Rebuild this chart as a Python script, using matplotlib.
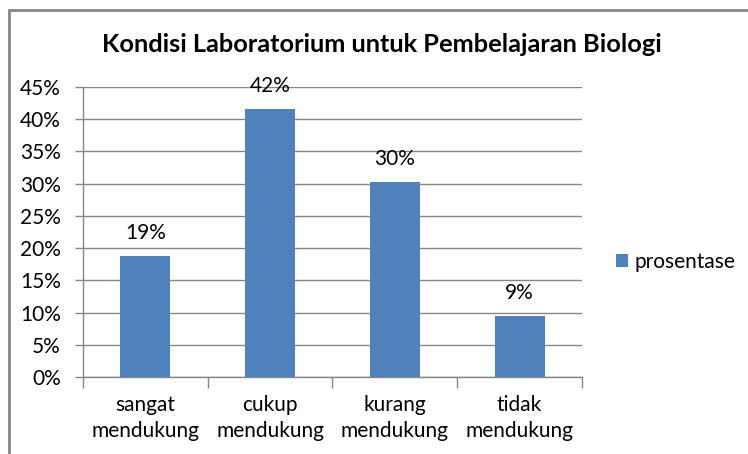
import matplotlib
matplotlib.use("Agg")
import matplotlib.pyplot as plt
from matplotlib.patches import Rectangle
from matplotlib.ticker import FixedLocator, NullFormatter

categories = ["sangat\nmendukung", "cukup\nmendukung", "kurang\nmendukung", "tidak\nmendukung"]
values = [18.8, 41.6, 30.3, 9.5]
labels = ["19%", "42%", "30%", "9%"]
yticks = [0, 5, 10, 15, 20, 25, 30, 35, 40, 45]

plt.rcParams["font.family"] = ["Lato", "DejaVu Sans"]
blue = "#4F81BD"
grey = "#868686"
fs = 15

fig = plt.figure(figsize=(7.48, 4.54), dpi=100)
ax = fig.add_axes([0.111, 0.1696, 0.667, 0.6388])

x = range(len(categories))
bars = ax.bar(x, values, width=0.4, color=blue, label="prosentase", zorder=3)
for xi, v, t in zip(x, values, labels):
    ax.text(xi, v + 3.6, t, ha="center", va="center", fontsize=fs)

ax.set_xlim(-0.5, 3.5)
ax.set_ylim(0, 45)
ax.set_yticks(yticks)
ax.set_yticklabels([f"{t}%" for t in yticks], fontsize=fs)
ax.yaxis.grid(True, color=grey, linewidth=1, zorder=0)
ax.tick_params(axis="y", length=6, color=grey, width=1, pad=10)

ax.set_xticks(list(x))
ax.set_xticklabels(categories, fontsize=fs, linespacing=1.38)
ax.tick_params(axis="x", which="major", length=0, pad=13)
ax.xaxis.set_minor_locator(FixedLocator([-0.5, 0.5, 1.5, 2.5, 3.5]))
ax.xaxis.set_minor_formatter(NullFormatter())
ax.tick_params(axis="x", which="minor", length=8, color=grey, width=1)

for s in ["top", "right"]:
    ax.spines[s].set_visible(False)
for s in ["left", "bottom"]:
    ax.spines[s].set_color(grey)
    ax.spines[s].set_linewidth(1)

fig.text(382 / 748, 1 - 45 / 454, "Kondisi Laboratorium untuk Pembelajaran Biologi",
         fontsize=18.3, fontweight="bold", ha="center", va="center")

fig.legend(handles=[bars], labels=["prosentase"], loc="center left",
           bbox_to_anchor=(0.798, 0.423), frameon=False, fontsize=fs,
           handlelength=0.58, handleheight=0.58, handletextpad=0.33)

# outer chart border
fig.patches.append(Rectangle((9 / 748, -0.1), 1.2, 1 - 10 / 454 + 0.1,
                             transform=fig.transFigure, fill=False,
                             edgecolor=grey, linewidth=2))

fig.savefig("out.png", dpi=100)
